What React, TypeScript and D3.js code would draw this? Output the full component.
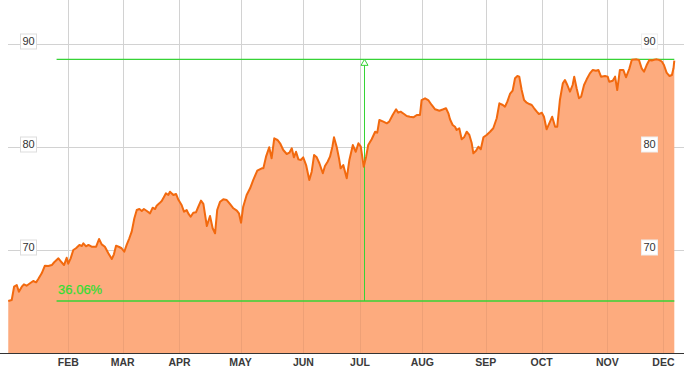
import React from 'react';
import * as d3 from 'd3';

// trading-session number (x) and closing value (y)
const tradingDay: number[] = [
  0.1, 1.4, 2.3, 3.3, 4.1, 5.2, 6.0, 7.0, 8.3, 9.5, 10.6, 11.4, 12.7, 13.9, 15.2, 16.5, 17.4, 19.0, 20.2, 21.1,
  22.1, 22.7, 23.6, 24.6, 25.6, 26.9, 27.8, 28.4, 29.4, 30.3, 31.5, 33.2, 34.3, 35.3, 36.5, 37.8, 39.1, 39.9, 40.7, 41.9,
  42.8, 43.8, 44.7, 45.7, 46.6, 47.6, 48.5, 49.5, 50.4, 51.2, 52.3, 53.5, 54.5, 55.4, 56.0, 57.0, 57.9, 58.8, 59.5, 60.4,
  61.0,
  62.3, 63.3, 64.2, 65.4, 66.3, 67.3, 67.9, 68.8, 69.8, 70.8, 71.7, 72.7, 73.6, 74.9, 76.1, 77.1, 78.0, 78.8, 79.9, 81.1,
  82.4, 83.6, 84.9, 86.2, 87.0, 87.8, 88.6, 89.9, 91.2, 92.4, 93.9, 95.6, 96.2, 97.2, 98.4, 99.3, 100.3, 101.5, 102.5, 103.7,
  105.0, 106.0, 106.9, 107.7, 108.5, 109.4, 110.3, 111.2, 112.3, 113.5, 114.4, 115.3, 116.3, 117.3, 118.6, 119.4, 120.4, 121.3, 122.2, 122.8,
  123.8, 124.7, 125.3, 126.3,
  127.6, 128.6, 129.9, 131.0, 132.0, 132.9, 134.0, 134.9, 135.7, 137.0, 138.3, 139.1, 139.9, 141.4, 142.7, 143.6, 144.9, 146.2, 147.0, 147.9,
  149.2, 150.2, 151.4, 152.7, 154.0, 155.2, 155.8, 157.1, 158.3, 159.6, 160.9, 162.5, 164.0, 165.0, 165.9, 166.5, 167.5, 168.4, 169.0, 170.0,
  170.9, 171.8, 172.8, 173.8, 174.7, 175.3, 176.3, 177.2, 178.1, 179.1, 180.3, 181.6, 182.8, 184.1, 185.1, 186.4, 187.2, 188.1, 189.1,
  190.1, 191.0, 191.9, 192.6, 193.5, 194.4, 195.4, 196.4, 197.3, 198.2, 199.2, 200.0, 201.1, 201.9, 202.9, 203.9, 205.0, 206.1, 206.9, 207.9,
  209.0, 209.8, 210.7, 211.7, 212.7, 213.3, 214.2, 215.1, 215.9, 217.0, 218.0, 219.2, 220.3, 221.5, 222.4, 223.4, 224.9, 225.9, 226.5, 227.8,
  228.7, 229.5, 230.5, 231.8, 232.8, 234.1, 235.0, 236.8, 237.7, 238.7, 239.6, 240.6, 241.6, 242.5, 243.4, 244.4, 245.4, 246.3, 247.1, 248.1,
  249.2, 250.1, 250.7, 251.0,
];

const closePrice: number[] = [
  65.05, 65.15, 66.44, 66.60, 65.95, 66.44, 66.67, 66.53, 66.77, 66.99, 66.86, 67.18, 67.74, 68.48, 68.45, 68.54, 68.81, 69.19, 68.81, 68.54,
  69.25, 68.67, 69.19, 70.00, 70.17, 70.49, 70.39, 70.65, 70.36, 70.49, 70.32, 70.32, 71.07, 70.55, 70.32, 69.68, 69.13, 69.58, 70.42, 70.29,
  70.17, 69.83, 70.49, 71.14, 71.78, 73.08, 73.88, 73.98, 73.79, 73.98, 73.79, 73.56, 74.11, 73.98, 74.30, 74.53, 74.76, 75.17, 75.50, 75.34,
  75.66,
  75.34, 75.44, 74.87, 74.37, 73.72, 73.88, 73.56, 73.23, 73.62, 73.66, 74.20, 74.79, 74.47, 72.33, 73.30, 72.11, 71.62, 73.88, 74.69, 74.92,
  74.85, 74.47, 74.05, 73.82, 73.56, 72.65, 74.20, 75.34, 75.99, 76.80, 77.70, 77.93, 77.93, 79.06, 79.97, 78.90, 80.84, 80.68, 80.36, 79.71,
  79.32, 79.45, 79.87, 79.00, 79.54, 78.80, 78.74, 79.00, 78.25, 76.80, 77.60, 79.22, 79.00, 78.42, 77.45, 78.16, 78.57, 79.06, 80.03, 80.94,
  80.03, 78.90, 77.93, 78.25,
  76.96, 78.74, 80.19, 79.54, 80.36, 80.03, 78.09, 79.06, 80.19, 80.75, 81.48, 81.39, 82.62, 82.46, 82.30, 82.46, 83.11, 83.66, 83.33, 83.43,
  83.20, 83.01, 82.94, 82.88, 83.11, 83.11, 84.56, 84.73, 84.56, 84.08, 83.66, 83.52, 83.66, 83.76, 83.27, 82.69, 82.14, 81.97, 81.65, 81.82,
  80.75, 80.94, 81.48, 81.17, 80.36, 79.39, 79.64, 80.03, 79.78, 80.94, 81.17, 81.48, 81.82, 82.79, 84.24, 84.08, 83.91, 84.40, 85.15,
  85.47, 86.67, 86.89, 86.83, 85.53, 84.56, 84.30, 84.17, 84.08, 83.76, 83.43, 83.20, 83.33, 82.94, 81.72, 82.30, 82.94, 81.97, 81.97, 84.56,
  86.18, 86.50, 86.02, 85.37, 86.02, 86.83, 85.70, 84.73, 84.88, 86.02, 86.57, 87.15, 87.48, 87.41, 87.48, 86.83, 86.89, 86.83, 86.34, 86.44,
  86.83, 85.53, 87.48, 87.48, 86.77, 87.64, 88.48, 88.51, 88.45, 87.64, 87.31, 87.96, 88.45, 88.40, 88.47, 88.51, 88.44, 88.30, 87.96, 87.22,
  86.89, 86.99, 87.64, 88.38,
];

const monthLabels: string[] = ['FEB', 'MAR', 'APR', 'MAY', 'JUN', 'JUL', 'AUG', 'SEP', 'OCT', 'NOV', 'DEC'];
const monthStartDay: number[] = [22.7, 43.2, 64.6, 87.6, 111.3, 132.6, 156.1, 180.0, 201.0, 225.8, 246.9];
const yTickValues: number[] = [70, 80, 90];
const rangeLabel = '36.06%';
const rangeStartDay = 18.3;
const markerDay = 134;

const FONT = '"Liberation Sans", Arial, Helvetica, sans-serif';

export default function App() {
  const W = 684;
  const H = 370;
  const x = d3.scaleLinear().domain([0, 251]).range([8, 674.3]);
  const y = d3.scaleLinear().domain([60, 90]).range([353, 44]);
  const data = tradingDay.map((t, i) => ({ t, v: closePrice[i] }));
  const lineGen = d3.line<{ t: number; v: number }>().x(d => x(d.t)).y(d => y(d.v));
  const areaGen = d3
    .area<{ t: number; v: number }>()
    .x(d => x(d.t))
    .y0(y(60))
    .y1(d => y(d.v));
  const vMin = d3.min(closePrice) as number;
  const vMax = d3.max(closePrice) as number;
  const xEnd = x(tradingDay[tradingDay.length - 1]);
  const xStart = x(rangeStartDay);
  const xm = Math.round(x(markerDay)) + 0.5;
  const yTop = y(vMax);
  const yBot = y(vMin);
  const px = (v: number) => Math.round(v) + 0.5;
  const areaD = areaGen(data) || '';
  const green = '#36d336';

  return (
    <svg
      width={W}
      height={H}
      style={{ position: 'absolute', left: 0, top: 0, background: '#fff' }}
      fontFamily={FONT}
    >
      <defs>
        <clipPath id="areaClip">
          <path d={areaD} />
        </clipPath>
      </defs>
      {/* horizontal grid */}
      {yTickValues.map(v => (
        <line key={'h' + v} x1={8} x2={W} y1={px(y(v))} y2={px(y(v))} stroke="#d2d2d2" strokeWidth={1} />
      ))}
      {/* vertical grid */}
      {monthStartDay.map((d, i) => (
        <line key={'v' + i} x1={px(x(d))} x2={px(x(d))} y1={0} y2={353} stroke="#d2d2d2" strokeWidth={1} />
      ))}
      {/* area */}
      <path d={areaD} fill="#fdab7e" stroke="none" />
      {/* faint grid showing through area */}
      <g clipPath="url(#areaClip)">
        {monthStartDay.map((d, i) => (
          <line key={'vo' + i} x1={px(x(d))} x2={px(x(d))} y1={0} y2={353} stroke="#000" strokeOpacity={0.06} strokeWidth={1} />
        ))}
      </g>
      {/* range lines */}
      <line x1={xStart} x2={xEnd} y1={yTop} y2={yTop} stroke={green} strokeWidth={1.3} />
      <line x1={xStart} x2={xEnd} y1={yBot} y2={yBot} stroke={green} strokeWidth={1.3} />
      <line x1={xm} x2={xm} y1={yBot} y2={yTop + 5} stroke={green} strokeWidth={1} />
      {/* price line */}
      <path d={lineGen(data) || ''} fill="none" stroke="#f2690e" strokeWidth={2} strokeLinejoin="round" />
      <path
        d={`M${xm},${yTop} L${xm + 3.5},${yTop + 6} L${xm - 3.5},${yTop + 6} Z`}
        fill="#ffffff"
        stroke={green}
        strokeWidth={1}
      />
      <text x={xStart + 1.5} y={yBot - 7} fill="#33dd33" fontSize={13} stroke="#33dd33" strokeWidth={0.25}>
        {rangeLabel}
      </text>
      {/* y labels */}
      {yTickValues.map(v => (
        <g key={'yl' + v}>
          <rect x={20.5} y={px(y(v)) - 10.5} width={16} height={15} fill="#fff" stroke="#dddddd" strokeWidth={1} />
          <text x={28.5} y={y(v) - 2.5} dy="0.35em" textAnchor="middle" fontSize={11} fill="#333">
            {v}
          </text>
          <rect x={641.5} y={px(y(v)) - 10.5} width={16} height={15} fill="#fff" stroke="#eeeeee" strokeWidth={1} />
          <text x={649.5} y={y(v) - 2.5} dy="0.35em" textAnchor="middle" fontSize={11} fill="#333">
            {v}
          </text>
        </g>
      ))}
      {/* x axis */}
      <line x1={0} x2={W} y1={353.5} y2={353.5} stroke="#333" strokeWidth={1} />
      {monthLabels.map((m, i) => (
        <text
          key={m}
          x={x(monthStartDay[i])}
          y={362}
          dy="0.35em"
          textAnchor="middle"
          fontSize={10.5}
          fontWeight="bold"
          fill="#3a3a3a"
        >
          {m}
        </text>
      ))}
    </svg>
  );
}
